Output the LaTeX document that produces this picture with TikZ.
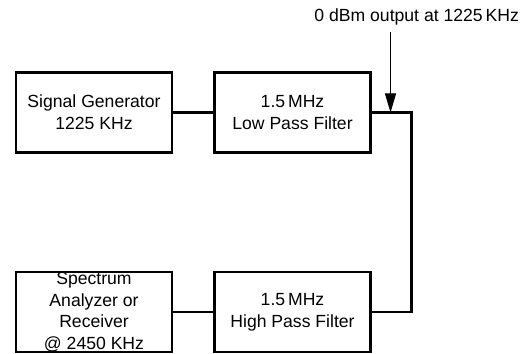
\documentclass[tikz,border=0pt]{standalone}
\usepackage{fontspec}
\setmainfont{Liberation Sans}
\usetikzlibrary{positioning, arrows.meta}

\tikzset{
    block/.style={draw, line width=1.1pt, minimum width=78pt, minimum height=40pt, inner sep=0pt, align=center},
    wire/.style={line width=1.1pt},
    probe/.style={line width=0.5pt, -{Triangle[width=5.5pt, length=9.5pt]}}
}

\begin{document}
\begin{tikzpicture}[x=0.5pt, y=0.5pt, font=\fontsize{8.8}{10.9}\selectfont]
\useasboundingbox (0,0) rectangle (528,353);

\node[block] (gen) at (94,240.5) {Signal Generator\\1225 KHz};
\node[block] (lpf) at (292.5,240.5) {1.5\,MHz\\Low Pass Filter};
\node[block] (sa) at (94,41) {Spectrum\\Analyzer or\\Receiver\\@ 2450 KHz};
\node[block] (hpf) at (292.5,41) {1.5\,MHz\\High Pass Filter};

\node (out) at (416.7,336) {0 dBm output at 1225\,KHz};
\coordinate (tap) at (390.5,240.5);
\coordinate (turn) at (411.5,240.5);

\draw[wire] (gen) -- (lpf);
\draw[wire] (lpf) -- (turn) |- (hpf);
\draw[wire] (hpf) -- (sa);

\draw[probe] (out.south -| tap) -- (tap);
\end{tikzpicture}
\end{document}
